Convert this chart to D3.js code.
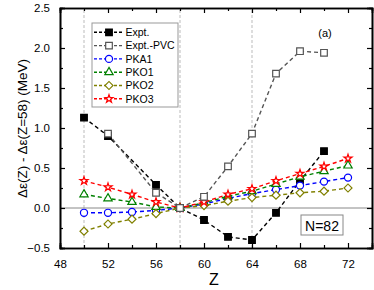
<!DOCTYPE html>
<html>
<head>
<meta charset="utf-8">
<script src="https://cdn.jsdelivr.net/npm/d3@7"></script>
<style>
  body { margin: 0; background: #fff; }
  svg { display: block; font-family: Arial, "Liberation Sans", sans-serif; }
</style>
</head>
<body>
<svg id="chart"></svg>
<script>
const zFull = [50, 52, 54, 56, 58, 60, 62, 64, 66, 68, 70, 72]
const zExpt = [50, 52, 56, 58, 60, 62, 64, 66, 68, 70]
const expt = [1.13, 0.90, 0.29, 0, -0.15, -0.36, -0.40, -0.06, 0.34, 0.71]
const zPvc = [52, 56, 58, 60, 62, 64, 66, 68, 70]
const exptPvc = [0.93, 0.19, 0, 0.14, 0.52, 0.93, 1.68, 1.96, 1.94]
const pka1 = [-0.06, -0.06, -0.05, -0.03, 0, 0.05, 0.12, 0.18, 0.23, 0.28, 0.33, 0.38]
const pko1 = [0.17, 0.12, 0.075, 0.013, 0, 0.065, 0.146, 0.21, 0.30, 0.39, 0.46, 0.53]
const pko2 = [-0.29, -0.20, -0.14, -0.07, 0, 0.03, 0.085, 0.13, 0.16, 0.19, 0.21, 0.25]
const pko3 = [0.34, 0.26, 0.17, 0.075, 0, 0.075, 0.17, 0.24, 0.34, 0.43, 0.52, 0.62]
const xTicks = [48, 52, 56, 60, 64, 68, 72]
const yTicks = [-0.5, 0.0, 0.5, 1.0, 1.5, 2.0, 2.5]
const guideZ = [50, 58, 64]

const dimensions = {
  width: 374,
  height: 290,
  margin: { top: 8, right: 2, bottom: 42, left: 60 },
}

const series = [
  { name: "Expt.", z: zExpt, v: expt, color: "#000", shape: "square", fill: true },
  { name: "Expt.-PVC", z: zPvc, v: exptPvc, color: "#555", shape: "square", fill: false },
  { name: "PKA1", z: zFull, v: pka1, color: "#0000ff", shape: "circle", fill: false },
  { name: "PKO1", z: zFull, v: pko1, color: "#008000", shape: "triangle", fill: false },
  { name: "PKO2", z: zFull, v: pko2, color: "#808000", shape: "diamond", fill: false },
  { name: "PKO3", z: zFull, v: pko3, color: "#ff0000", shape: "star", fill: false },
]

const svg = d3.select("#chart")
  .attr("width", dimensions.width)
  .attr("height", dimensions.height)

const x0 = dimensions.margin.left
const x1 = dimensions.width - dimensions.margin.right
const y0 = dimensions.height - dimensions.margin.bottom
const y1 = dimensions.margin.top

const xScale = d3.scaleLinear().domain([48, 74]).range([x0, x1])
const yScale = d3.scaleLinear().domain([-0.5, 2.5]).range([y0, y1])

// guide lines
svg.append("g")
  .selectAll("line")
  .data(guideZ)
  .enter()
  .append("line")
  .attr("x1", d => xScale(d)).attr("x2", d => xScale(d))
  .attr("y1", y0).attr("y2", y1)
  .attr("stroke", "#aaa")
  .attr("stroke-width", 0.8)
  .attr("stroke-dasharray", "3,2")

svg.append("line")
  .attr("x1", x0).attr("x2", x1)
  .attr("y1", yScale(0)).attr("y2", yScale(0))
  .attr("stroke", "#888")
  .attr("stroke-width", 1)

function symbolPath(shape) {
  if (shape === "square") return d3.symbol(d3.symbolSquare, 44)()
  if (shape === "circle") return d3.symbol(d3.symbolCircle, 40)()
  if (shape === "triangle") return d3.symbol(d3.symbolTriangle, 30)()
  if (shape === "diamond") return d3.symbol(d3.symbolSquare, 32)()
  return d3.symbol(d3.symbolStar, 20)()
}

const line = d3.line().x(d => xScale(d[0])).y(d => yScale(d[1]))

// Expt first, Expt.-PVC last so its open squares sit on top
const drawOrder = [0, 2, 3, 4, 5, 1]
drawOrder.forEach(function(i) {
  const s = series[i]
  const pts = s.z.map((z, j) => [z, s.v[j]])
  const g = svg.append("g")
  g.append("path")
    .datum(pts)
    .attr("d", line)
    .attr("fill", "none")
    .attr("stroke", s.color)
    .attr("stroke-width", 1.4)
    .attr("stroke-dasharray", "4,3")
  g.selectAll("path.m")
    .data(pts)
    .enter()
    .append("path")
    .attr("class", "m")
    .attr("d", symbolPath(s.shape))
    .attr("transform", d => `translate(${xScale(d[0])},${yScale(d[1])})` + (s.shape === "diamond" ? " rotate(45)" : ""))
    .attr("fill", s.fill ? s.color : "#fff")
    .attr("stroke", s.color)
    .attr("stroke-width", 1.2)
})

// axes
const minorX = d3.range(50, 74, 4)
const minorY = d3.range(-0.25, 2.5, 0.5)
const xAxisB = d3.axisBottom(xScale).tickValues(xTicks).tickSize(-5).tickPadding(12).tickFormat(d3.format("d"))
const xAxisBMinor = d3.axisBottom(xScale).tickValues(minorX).tickSize(-3).tickFormat("")
const xAxisT = d3.axisTop(xScale).tickValues(xTicks).tickSize(-5).tickFormat("")
const xAxisTMinor = d3.axisTop(xScale).tickValues(minorX).tickSize(-3).tickFormat("")
const yAxisL = d3.axisLeft(yScale).tickValues(yTicks).tickSize(-5).tickPadding(10).tickFormat(d3.format(".1f"))
const yAxisLMinor = d3.axisLeft(yScale).tickValues(minorY).tickSize(-3).tickFormat("")
const yAxisR = d3.axisRight(yScale).tickValues(yTicks).tickSize(-5).tickFormat("")
const yAxisRMinor = d3.axisRight(yScale).tickValues(minorY).tickSize(-3).tickFormat("")

function addAxis(axis, tx, ty) {
  const g = svg.append("g")
    .attr("transform", `translate(${tx},${ty})`)
    .call(axis)
  g.select(".domain").attr("stroke", "#000").attr("stroke-width", 1.6)
  g.selectAll(".tick line").attr("stroke", "#000").attr("stroke-width", 1.2)
  g.selectAll(".tick text").attr("font-size", "11.5px").attr("fill", "#000").attr("font-family", "Arial, 'Liberation Sans', sans-serif")
  return g
}
addAxis(xAxisBMinor, 0, y0)
addAxis(xAxisB, 0, y0)
addAxis(xAxisTMinor, 0, y1)
addAxis(xAxisT, 0, y1)
addAxis(yAxisLMinor, x0, 0)
addAxis(yAxisL, x0, 0)
addAxis(yAxisRMinor, x1, 0)
addAxis(yAxisR, x1, 0)

svg.append("text")
  .text("Z")
  .attr("x", 214)
  .attr("y", 285)
  .attr("text-anchor", "middle")
  .attr("font-size", "16px")

svg.append("text")
  .text("Δε(Z) - Δε(Z=58) (MeV)")
  .attr("transform", `translate(27,${(y0 + y1) / 2 + 0.5}) rotate(-90)`)
  .attr("text-anchor", "middle")
  .attr("font-size", "13.5px")

svg.append("text")
  .text("(a)")
  .attr("x", 325)
  .attr("y", 37)
  .attr("text-anchor", "middle")
  .attr("font-size", "11px")

// N=82 box
svg.append("rect")
  .attr("x", 301).attr("y", 215)
  .attr("width", 42).attr("height", 20)
  .attr("fill", "#fff")
  .attr("stroke", "#888")
  .attr("stroke-width", 1)
svg.append("text")
  .text("N=82")
  .attr("x", 322).attr("y", 230.5)
  .attr("text-anchor", "middle")
  .attr("font-size", "14px")

// legend
const legend = svg.append("g")
legend.append("rect")
  .attr("x", 92).attr("y", 23)
  .attr("width", 86).attr("height", 84)
  .attr("fill", "#fff")
  .attr("stroke", "#999")
  .attr("stroke-width", 1)

const rows = legend.selectAll("g.row")
  .data(series)
  .enter()
  .append("g")
  .attr("transform", (d, i) => `translate(0,${32.3 + i * 13.3})`)
rows.append("line")
  .attr("x1", 94).attr("x2", 123)
  .attr("y1", 0).attr("y2", 0)
  .attr("stroke", d => d.color)
  .attr("stroke-width", 1.4)
  .attr("stroke-dasharray", "3,2")
rows.append("path")
  .attr("d", d => symbolPath(d.shape))
  .attr("transform", d => "translate(109,0)" + (d.shape === "diamond" ? " rotate(45)" : ""))
  .attr("fill", d => d.fill ? d.color : "#fff")
  .attr("stroke", d => d.color)
  .attr("stroke-width", 1.2)
rows.append("text")
  .text(d => d.name)
  .attr("x", 125.5)
  .attr("y", 3.8)
  .attr("font-size", "10.5px")
</script>
</body>
</html>
